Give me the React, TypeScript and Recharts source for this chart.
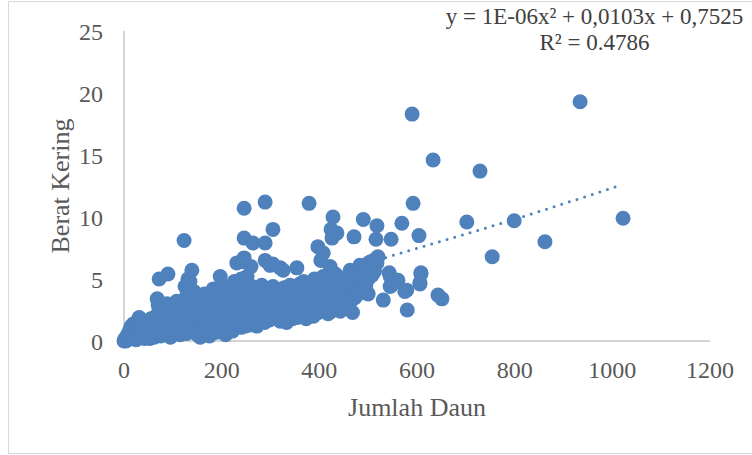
import React from 'react';
import { ComposedChart, Scatter, Line, XAxis, YAxis } from 'recharts';

// sumbu
const ticksX = [0, 200, 400, 600, 800, 1000, 1200];
const ticksY = [0, 5, 10, 15, 20, 25];

// titik padat dekat nol (x < 130)
const titikAwal: [number, number][] = [
  [0, 0], [1, 0.1], [3, 0.2], [4, 0], [6, 0.4], [8, 0.1], [9, 0.6], [11, 0.3], [12, 0.9], [14, 0.5],
  [15, 1.2], [17, 0.2], [19, 0.8], [20, 1.4], [22, 0.4], [24, 1.0], [25, 0.1], [27, 0.6], [29, 1.3],
  [31, 0.3], [31, 1.9], [33, 0.9], [35, 1.6], [37, 0.5], [40, 1.1], [42, 0.2], [44, 0.7], [46, 1.5],
  [48, 0.4], [50, 1.0], [53, 0.2], [55, 1.8], [57, 0.6], [60, 1.2], [62, 0.3], [65, 2.0], [67, 0.8],
  [68, 3.4], [70, 1.5], [70, 2.9], [72, 2.6], [72, 5.0], [75, 0.4], [78, 1.1], [80, 2.2], [83, 0.6],
  [86, 1.6], [88, 3.0], [90, 0.9], [90, 5.4], [93, 2.4], [95, 0.3], [98, 1.3], [100, 2.8], [103, 0.7],
  [105, 1.9], [108, 3.2], [110, 1.0], [113, 2.3], [115, 0.5], [118, 1.7], [120, 2.9], [123, 1.2],
  [123, 8.1], [125, 3.4], [125, 4.4], [128, 0.6], [130, 2.1], [130, 3.9],
];

// titik 130 - 360
const titikTengah: [number, number][] = [
  [131, 5.0], [132, 1.5], [135, 3.0], [135, 4.8], [138, 0.8], [139, 5.7], [140, 2.5], [143, 4.0],
  [145, 1.2], [148, 3.5], [150, 0.5], [152, 2.0], [155, 3.2], [156, 0.3], [160, 1.6], [162, 2.8],
  [165, 3.8], [165, 0.8], [168, 1.0], [170, 2.3], [172, 3.4], [175, 0.4], [178, 1.8], [180, 2.9],
  [183, 4.2], [185, 1.3], [188, 2.5], [190, 0.7], [192, 3.3], [195, 1.9], [197, 5.2], [198, 2.7],
  [200, 4.5], [202, 1.1], [205, 3.0], [208, 0.5], [210, 2.2], [211, 0.7], [212, 3.8], [215, 1.5],
  [218, 2.8], [220, 4.1], [222, 0.8], [225, 2.0], [226, 4.8], [228, 3.5], [230, 4.8], [231, 6.3],
  [232, 1.3], [235, 2.6], [238, 3.9], [240, 5.0], [240, 1.1], [242, 2.0], [244, 6.4], [245, 3.5],
  [246, 6.7], [246, 8.3], [246, 10.7], [248, 1.2], [250, 4.6], [252, 5.2], [253, 2.8], [255, 1.6],
  [258, 3.9], [258, 1.3], [260, 2.3], [260, 6.0], [262, 4.4], [264, 7.9], [265, 1.4], [268, 3.1],
  [270, 2.0], [272, 4.0], [272, 1.2], [275, 2.6], [278, 1.8], [280, 3.6], [282, 4.5], [285, 2.2],
  [288, 1.5], [289, 6.5], [289, 7.9], [289, 11.2], [290, 3.2], [292, 4.2], [295, 2.7], [298, 1.7],
  [299, 6.1], [300, 3.8], [303, 2.4], [305, 4.4], [305, 6.2], [305, 9.0], [308, 3.0], [310, 1.9],
  [313, 3.6], [315, 2.5], [318, 4.1], [320, 1.6], [320, 5.9], [323, 3.3], [325, 2.1], [326, 5.7],
  [328, 4.3], [330, 2.9], [333, 1.5], [335, 3.7], [338, 2.3], [340, 4.5], [343, 3.0], [345, 1.8],
  [348, 3.9], [350, 2.6], [353, 4.2], [354, 5.9], [355, 1.9], [358, 3.2], [360, 4.6],
];

// titik 360 - 540
const titikKanan: [number, number][] = [
  [362, 2.0], [365, 3.5], [368, 4.8], [370, 2.6], [373, 1.8], [375, 4.2], [378, 3.0], [379, 11.1],
  [380, 2.2], [383, 4.6], [385, 3.4], [388, 2.0], [390, 5.0], [393, 2.8], [395, 3.9], [397, 7.6],
  [398, 2.3], [400, 4.4], [403, 3.2], [403, 6.5], [405, 2.5], [408, 5.2], [408, 7.1], [410, 3.6],
  [413, 2.7], [415, 4.5], [418, 2.2], [420, 3.9], [422, 6.0], [423, 5.0], [424, 9.0], [425, 2.4],
  [426, 8.3], [428, 4.1], [428, 10.0], [430, 3.0], [433, 5.4], [435, 2.6], [436, 8.7], [438, 4.3],
  [440, 3.5], [443, 2.4], [445, 4.7], [448, 3.2], [450, 5.0], [453, 2.7], [455, 4.2], [458, 3.6],
  [460, 5.3], [463, 3.1], [463, 5.7], [465, 4.6], [468, 2.3], [470, 4.9], [471, 8.4], [473, 3.5],
  [475, 5.6], [478, 4.2], [480, 3.8], [483, 5.2], [483, 6.1], [485, 4.5], [488, 6.0], [490, 4.8],
  [490, 9.8], [493, 5.5], [495, 4.4], [498, 6.2], [500, 5.0], [500, 3.8], [503, 5.8], [505, 6.4],
  [508, 5.3], [510, 6.0], [513, 5.6], [515, 6.6], [516, 8.2], [518, 6.3], [518, 9.3], [520, 6.8],
  [531, 3.3],
];

// titik jauh
const titikLuar: [number, number][] = [
  [543, 5.5], [545, 4.4], [545, 5.2], [547, 8.2], [548, 4.5], [559, 4.9], [561, 4.9], [569, 9.5],
  [575, 4.0], [579, 4.1], [580, 2.5], [590, 18.3], [592, 11.1], [604, 8.5], [606, 4.6], [606, 4.7],
  [608, 5.4], [608, 5.5], [633, 14.6], [643, 3.7], [651, 3.4], [702, 9.6], [729, 13.7], [754, 6.8],
  [799, 9.7], [862, 8.0], [934, 19.3], [1022, 9.9],
];

// garis tren
const trenX = [0, 260, 534, 790, 1020];
const trenY = [0.75, 3.5, 6.7, 9.7, 12.6];

const titik = [...titikAwal, ...titikTengah, ...titikKanan, ...titikLuar].map(([x, y]) => ({ x, y }));
const tren = trenX.map((x, i) => ({ x, y: trenY[i] }));

const BIRU = '#4f81bd';
const FONT = "'Liberation Serif', 'Times New Roman', serif";
const tickStyle = { fontFamily: FONT, fontSize: 24, fill: '#595959' };

const Bulat = (p: any) => <circle cx={p.cx} cy={p.cy} r={7.5} fill={BIRU} />;

export default function App() {
  return (
    <div style={{ position: 'absolute', left: 0, top: 0, width: 752, height: 455, background: '#fff', overflow: 'hidden' }}>
      <div style={{ position: 'absolute', left: 8, top: 1, width: 800, height: 451, border: '1px solid #d9d9d9' }} />
      <ComposedChart width={752} height={455} data={titik} margin={{ top: 31, right: 42, left: 0, bottom: 0 }}>
        <XAxis
          type="number"
          dataKey="x"
          domain={[0, 1200]}
          ticks={ticksX}
          interval={0}
          height={114}
          tickLine={false}
          tickMargin={14}
          axisLine={{ stroke: '#c6c6c6', strokeWidth: 1.5 }}
          tick={tickStyle}
          label={{
            content: ({ viewBox }: any) => (
              <text x={viewBox.x + viewBox.width / 2} y={416} textAnchor="middle" style={{ fontFamily: FONT, fontSize: 26, fill: '#595959' }}>
                Jumlah Daun
              </text>
            ),
          }}
        />
        <YAxis
          type="number"
          dataKey="y"
          domain={[0, 25]}
          ticks={ticksY}
          interval={0}
          width={124}
          tickLine={false}
          tickMargin={15}
          axisLine={{ stroke: '#c6c6c6', strokeWidth: 1.5 }}
          tick={tickStyle}
          label={{
            content: ({ viewBox }: any) => {
              const cy = viewBox.y + viewBox.height / 2;
              return (
                <text x={60} y={cy} transform={`rotate(-90 60 ${cy})`} textAnchor="middle" dy="0.35em" style={{ fontFamily: FONT, fontSize: 26, fill: '#595959' }}>
                  Berat Kering
                </text>
              );
            },
          }}
        />
        <Line data={tren} dataKey="y" type="monotone" stroke={BIRU} strokeWidth={3} strokeDasharray="0 8" strokeLinecap="round" dot={false} isAnimationActive={false} />
        <Scatter data={titik} dataKey="y" fill={BIRU} shape={Bulat} isAnimationActive={false} />
      </ComposedChart>
      <div style={{ position: 'absolute', left: 437, top: 4, width: 315, textAlign: 'center', fontFamily: FONT, fontSize: 23, lineHeight: '26px', color: '#404040' }}>
        <div style={{ whiteSpace: 'nowrap' }}>y = 1E-06x² + 0,0103x + 0,7525</div>
        <div>R² = 0.4786</div>
      </div>
    </div>
  );
}
